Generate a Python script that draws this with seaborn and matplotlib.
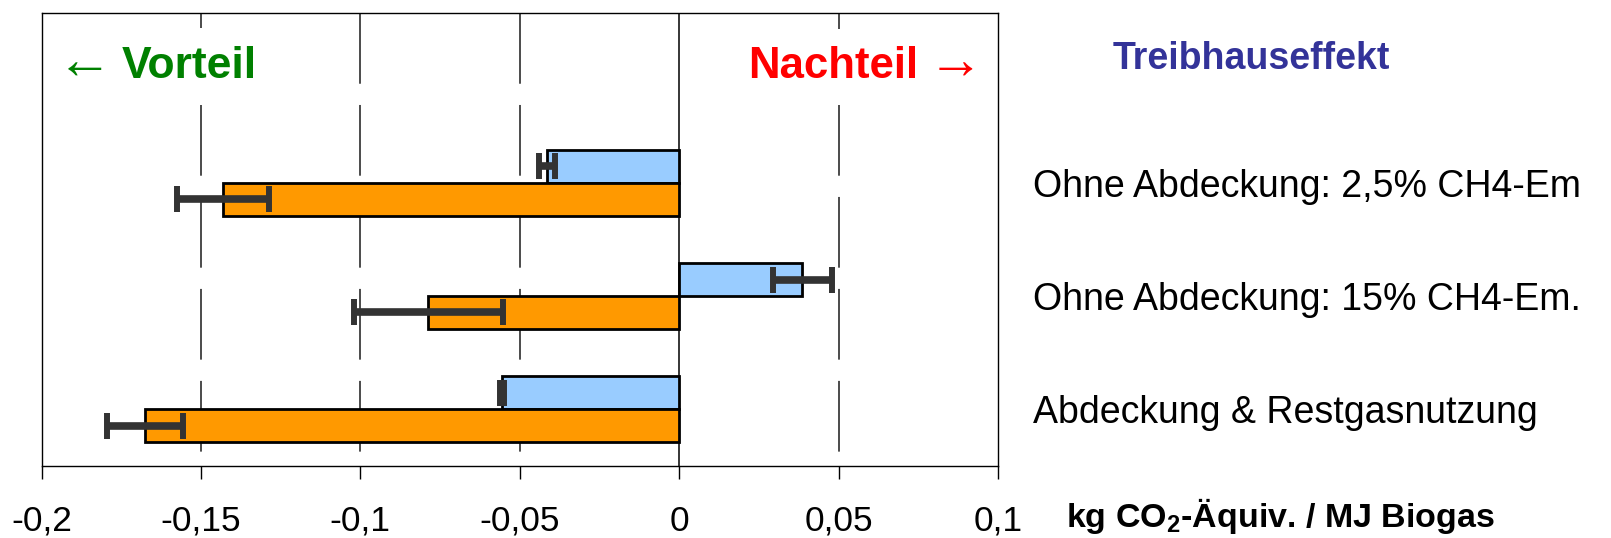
import matplotlib
matplotlib.use("Agg")
import numpy as np
import pandas as pd
import matplotlib.pyplot as plt
import seaborn as sns

# ---------------- data ----------------
categories = ["Ohne Abdeckung: 2,5% CH4-Em",
              "Ohne Abdeckung: 15% CH4-Em.",
              "Abdeckung & Restgasnutzung"]
series_names = ["Serie 1", "Serie 2"]
blue_values = [-0.0415, 0.0386, -0.0555]
blue_errors = [0.0025, 0.0092, 0.0006]
orange_values = [-0.1432, -0.0787, -0.1676]
orange_errors = [0.0144, 0.0234, 0.0120]
xtick_values = [-0.2, -0.15, -0.1, -0.05, 0.0, 0.05, 0.1]
xtick_labels = ["-0,2", "-0,15", "-0,1", "-0,05", "0", "0,05", "0,1"]
axis_label = r"kg CO$_{\mathbf{2}}$-Äquiv. / MJ Biogas"
title_text = "Treibhauseffekt"
left_text = "Vorteil"
right_text = "Nachteil"

# ---------------- style ----------------
sns.set_style("white")
plt.rcParams["font.family"] = ["Liberation Sans", "DejaVu Sans"]
plt.rcParams["mathtext.fontset"] = "custom"
plt.rcParams["mathtext.rm"] = "Liberation Sans"
plt.rcParams["mathtext.bf"] = "Liberation Sans:bold"
for key in ["text.color", "axes.labelcolor", "xtick.color", "ytick.color"]:
    plt.rcParams[key] = "black"

W, H = 1611, 538
fig = plt.figure(figsize=(W / 100, H / 100), dpi=100)
ax = fig.add_axes([41.5 / W, 1 - 466 / H, (998 - 41.5) / W, (466 - 12.7) / H])

df = pd.DataFrame({
    "Kategorie": categories * 2,
    "Serie": [series_names[0]] * 3 + [series_names[1]] * 3,
    "Wert": blue_values + orange_values,
})
palette = {series_names[0]: "#99CCFF", series_names[1]: "#FF9900"}

sns.barplot(data=df, y="Kategorie", x="Wert", hue="Serie", hue_order=series_names,
            order=categories, palette=palette, orient="h", width=0.58,
            edgecolor="black", linewidth=2.0, legend=False, errorbar=None,
            saturation=1, ax=ax, zorder=3)

# error bars placed on the bars drawn by seaborn
for cont, vals, errs in zip(ax.containers, [blue_values, orange_values],
                            [blue_errors, orange_errors]):
    ys = [p.get_y() + p.get_height() / 2 for p in cont.patches]
    ax.errorbar(vals, ys, xerr=errs, fmt="none", ecolor="#333333",
                elinewidth=5.5, capsize=9.5, capthick=4.3, zorder=4)

ax.set_xlim(-0.2, 0.1)
ax.set_ylim(2.5, -1.5)

# gridlines (dashed, drawn from the top), solid zero line
lw = 1.1
for xv in xtick_values[1:-1]:
    if xv == 0:
        ax.axvline(xv, ymin=1, ymax=0, color="black", lw=lw, zorder=2)
    else:
        ax.axvline(xv, ymin=1, ymax=0, color="#1a1a1a", lw=lw, zorder=1,
                   linestyle=(0, (46.3, 13.9)))

ax.set_xticks(xtick_values)
ax.set_xticklabels(xtick_labels)
ax.tick_params(axis="x", direction="out", length=9, width=1.0, color="black",
               pad=19, labelsize=25.5, bottom=True, labelcolor="black")
ax.yaxis.tick_right()
ax.tick_params(axis="y", length=0, pad=25, labelsize=27, right=True, left=False,
               labelcolor="black")
for lab in ax.get_yticklabels():
    lab.set_horizontalalignment("left")
ax.set_xlabel("")
ax.set_ylabel("")

for s in ax.spines.values():
    s.set_visible(True)
    s.set_color("black")
    s.set_linewidth(1.0)

# annotations
box = dict(boxstyle="square,pad=0.4", fc="white", ec="none")
fig.text(57 / W, 1 - 79 / H, "\u2190", fontsize=40, color="#008000",
         va="baseline", ha="left")
fig.text(122 / W, 1 - 78 / H, left_text, fontsize=32, fontweight="bold",
         color="#008000", va="baseline", ha="left", bbox=box, zorder=5)
fig.text(748 / W, 1 - 78 / H, right_text, fontsize=31.5, fontweight="bold",
         color="#FF0000", va="baseline", ha="left", bbox=box, zorder=5)
fig.text(928 / W, 1 - 79 / H, "\u2192", fontsize=40, color="#FF0000",
         va="baseline", ha="left", zorder=6)
fig.text(1113 / W, 1 - 69 / H, title_text, fontsize=27, fontweight="bold",
         color="#333399", va="baseline", ha="left")
fig.text(1066 / W, 1 - 527 / H, axis_label, fontsize=24.5, fontweight="bold",
         color="black", va="baseline", ha="left")

fig.savefig("out.png", dpi=100)
